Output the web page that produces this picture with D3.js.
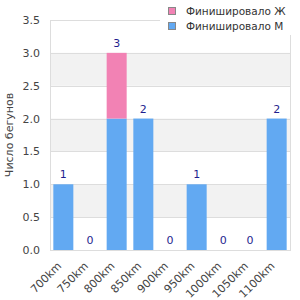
<!DOCTYPE html>
<html>
<head>
<meta charset="utf-8">
<script src="https://cdn.jsdelivr.net/npm/d3@7"></script>
<style>
body { margin: 0; background: #fff; }
text { font-family: "DejaVu Sans", sans-serif; }
</style>
</head>
<body>
<script>
var width = 300;
var height = 300;

var categories = ["700km", "750km", "800km", "850km", "900km", "950km", "1000km", "1050km", "1100km"];
var finishedM = [1, 0, 2, 2, 0, 1, 0, 0, 2];
var finishedF = [0, 0, 1, 0, 0, 0, 0, 0, 0];
var yTicks = [0, 0.5, 1, 1.5, 2, 2.5, 3, 3.5];
var seriesNames = ["Финишировало Ж", "Финишировало М"];
var seriesColors = ["#f282b4", "#62a9f2"];

var plotL = 50, plotR = 290, plotT = 20, plotB = 250;

var svg = d3.select("body")
	.append("svg")
	.attr("width", width)
	.attr("height", height);

var x = d3.scaleBand()
	.domain(categories)
	.range([plotL, plotR])
	.paddingInner(0.25)
	.paddingOuter(0.125);

var y = d3.scaleLinear()
	.domain([0, 3.5])
	.range([plotB, plotT]);

// alternating bands
svg.append("g")
	.selectAll("rect")
	.data([0.5, 1.5, 2.5])
	.enter()
	.append("rect")
	.attr("x", plotL)
	.attr("width", plotR - plotL)
	.attr("y", function(d) { return y(d + 0.5); })
	.attr("height", function(d) { return y(d) - y(d + 0.5); })
	.style("fill", "#f2f2f2");

// grid lines
svg.append("g")
	.selectAll("line")
	.data(yTicks)
	.enter()
	.append("line")
	.attr("x1", plotL)
	.attr("x2", plotR)
	.attr("y1", function(d) { return Math.round(y(d)) + 0.5; })
	.attr("y2", function(d) { return Math.round(y(d)) + 0.5; })
	.style("stroke", "#dddddd");

// border
svg.append("rect")
	.attr("x", plotL + 0.5)
	.attr("y", plotT + 0.5)
	.attr("width", plotR - plotL)
	.attr("height", plotB - plotT)
	.style("fill", "none")
	.style("stroke", "#dddddd");

var rows = categories.map(function(c, i) {
	return { cat: c, m: finishedM[i], f: finishedF[i] };
});

// male bars
svg.append("g")
	.selectAll("rect")
	.data(rows)
	.enter()
	.append("rect")
	.attr("x", function(d) { return x(d.cat); })
	.attr("width", x.bandwidth())
	.attr("y", function(d) { return y(d.m); })
	.attr("height", function(d) { return y(0) - y(d.m); })
	.style("fill", seriesColors[1]);

// female bars stacked on top
svg.append("g")
	.selectAll("rect")
	.data(rows)
	.enter()
	.append("rect")
	.attr("x", function(d) { return x(d.cat); })
	.attr("width", x.bandwidth())
	.attr("y", function(d) { return y(d.m + d.f); })
	.attr("height", function(d) { return y(d.m) - y(d.m + d.f); })
	.style("fill", seriesColors[0]);

// totals
svg.append("g")
	.selectAll("text")
	.data(rows)
	.enter()
	.append("text")
	.attr("x", function(d) { return x(d.cat) + x.bandwidth() / 2; })
	.attr("y", function(d) { return y(d.m + d.f) - 6; })
	.attr("text-anchor", "middle")
	.style("font-size", "11px")
	.style("fill", "#1f1f8f")
	.text(function(d) { return d.m + d.f; });

// y axis labels
svg.append("g")
	.selectAll("text")
	.data(yTicks)
	.enter()
	.append("text")
	.attr("x", plotL - 10)
	.attr("y", function(d) { return y(d) + 4; })
	.attr("text-anchor", "end")
	.style("font-size", "11px")
	.style("fill", "#444")
	.text(function(d) { return d.toFixed(1); });

// x axis labels
svg.append("g")
	.selectAll("text")
	.data(categories)
	.enter()
	.append("text")
	.attr("transform", function(d) {
		return "translate(" + (x(d) + x.bandwidth() / 2 - 4) + "," + (plotB + 14) + ") rotate(-45)";
	})
	.attr("text-anchor", "end")
	.attr("dy", "0.35em")
	.style("font-size", "11px")
	.style("fill", "#444")
	.text(function(d) { return d; });

// y title
svg.append("text")
	.attr("transform", "translate(9," + ((plotT + plotB) / 2) + ") rotate(-90)")
	.attr("text-anchor", "middle")
	.attr("dy", "0.35em")
	.style("font-size", "11px")
	.style("fill", "#444")
	.text("Число бегунов");

// legend
var legend = svg.append("g");
legend.append("rect")
	.attr("x", 160)
	.attr("y", 0)
	.attr("width", 140)
	.attr("height", 35)
	.style("fill", "#fff");

var items = legend.selectAll("g")
	.data(seriesNames)
	.enter()
	.append("g")
	.attr("transform", function(d, i) { return "translate(168," + (7 + i * 15) + ")"; });

items.append("rect")
	.attr("x", 0.5)
	.attr("y", 0.5)
	.attr("width", 7)
	.attr("height", 7)
	.style("fill", function(d, i) { return seriesColors[i]; })
	.style("stroke", "#888");

items.append("text")
	.attr("x", 18)
	.attr("y", 8)
	.style("font-size", "10.5px")
	.style("fill", "#333")
	.text(function(d) { return d; });
</script>
</body>
</html>
